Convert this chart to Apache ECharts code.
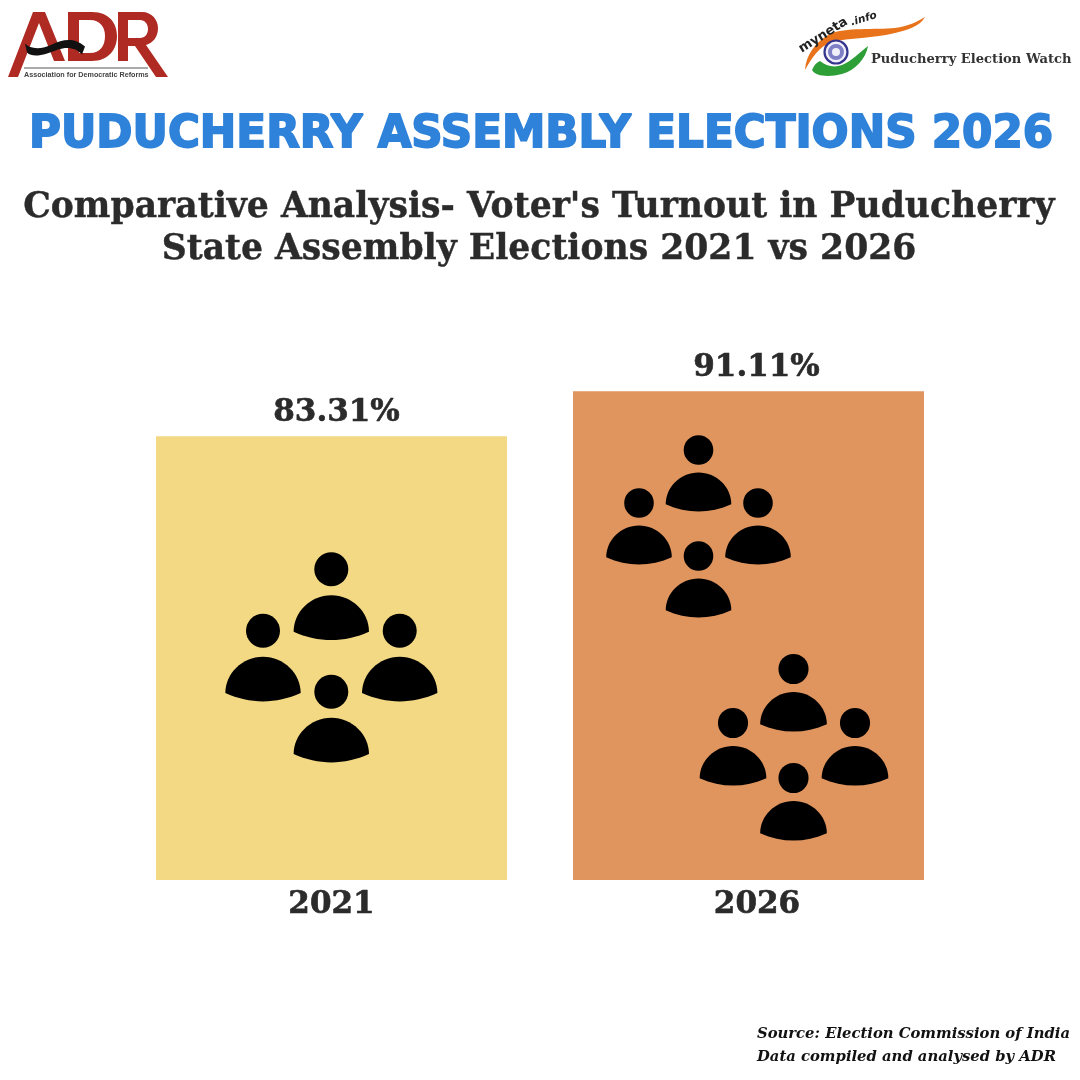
<!DOCTYPE html>
<html><head><meta charset="utf-8">
<style>html,body{margin:0;padding:0;background:#fff}#c{width:1080px;height:1080px}</style>
<script src="https://cdn.jsdelivr.net/npm/echarts@6/dist/echarts.min.js"></script>
</head><body><div id="c"></div>
<script>
const years = ['2021', '2026'];
const turnout = [83.31, 91.11];
const barColors = ['#F4D985', '#E0955E'];
const mainTitle = 'PUDUCHERRY ASSEMBLY ELECTIONS 2026';
const subTitle = "Comparative Analysis- Voter's Turnout in Puducherry\nState Assembly Elections 2021 vs 2026";
const sourceText = 'Source: Election Commission of India\nData compiled and analysed by ADR';

const SERIF2 = '"DejaVu Serif","Liberation Serif",serif';
const INK = '#2B2B2B';

function person(cx, cy, s) {
  return [
    {type:'circle', shape:{cx:cx, cy:cy, r:17*s}, style:{fill:'#000'}},
    {type:'path', shape:{pathData:'M-37.7 62.4 C-37.7 43 -21 26 0 26 C21 26 37.7 43 37.7 62.4 C13 73.5 -13 73.5 -37.7 62.4 Z',
      x:cx-37.7*s, y:cy+26*s, width:75.4*s, height:44.7*s}, style:{fill:'#000'}}
  ];
}
const people = [
  [331.3,569.3,1],[263,630.7,1],[399.7,630.7,1],[331.3,691.7,1],
  [698.5,450,0.87],[639,503,0.87],[758,503,0.87],[698.5,556,0.87],
  [793.5,669,0.885],[733,723,0.885],[855,723,0.885],[793.5,778,0.885]
];
const icons = people.flatMap(p => person(p[0],p[1],p[2]));

const adrRed = '#AE2A22';
const adrLogo = [
  {type:'path', shape:{pathData:'M33 12 L45 12 L65 61 L54 61 L39 23 L18 77 L8 77 Z', x:8,y:12,width:57,height:65}, style:{fill:adrRed}},
  {type:'path', shape:{pathData:'M68 12 L92 12 C110 12 117 24 117 36 C117 50 108 61 92 61 L68 61 Z M79 20 L79 53 L90 53 C100 53 105 46 105 36 C105 27 100 20 90 20 Z', x:68,y:12,width:49,height:49}, style:{fill:adrRed}},
  {type:'path', shape:{pathData:'M118 12 L142 12 C152 12 158 20 158 28 C158 37 153 43 146 45 L168 77 L156 77 L135 46 L128 46 L128 61 L118 61 Z M128 20 L128 38 L140 38 C145 38 148 34 148 29 C148 24 145 20 140 20 Z', x:118,y:12,width:50,height:65}, style:{fill:adrRed}},
  {type:'path', shape:{pathData:'M25 44 C30 50 42 50 52 45 C62 40 74 37 85 47 L82 55 C76 48 67 47 58 50 C46 55 33 59 27 53 Z', x:25,y:39.5,width:60,height:16.5}, style:{fill:'#111'}},
  {type:'line', shape:{x1:24,y1:68,x2:148,y2:68}, style:{stroke:'#444',lineWidth:0.9}},
  {type:'text', style:{x:24,y:75,text:'Association for Democratic Reforms',fill:'#444',font:'bold 7.2px "Liberation Sans",sans-serif',verticalAlign:'middle'}}
];
const netaLogo = [
  {type:'path', shape:{pathData:'M805 70 C806 55 815 42 830 34 C845 27 875 30 895 28 C908 26 917 22 925 17 C920 26 908 30 895 33 C875 38 848 38 832 42 C818 47 812 58 805 70 Z', x:805,y:17,width:120,height:53}, style:{fill:'#E8731A'}},
  {type:'path', shape:{pathData:'M812 70 C814 65 817 62 820 61 C826 66 834 68 842 65 C852 61 860 52 868 46 C866 58 856 70 842 74 C830 77 816 77 812 70 Z', x:812,y:46,width:56,height:30}, style:{fill:'#2E9E37'}},
  {type:'circle', shape:{cx:836,cy:52,r:11.5}, style:{fill:'#F0F0FA',stroke:'#34348F',lineWidth:2.2}},
  {type:'circle', shape:{cx:836,cy:52,r:6}, style:{fill:'#F0F0FA',stroke:'#7F7FC8',lineWidth:4}},
  {type:'text', rotation:0.56, x:800, y:50, style:{x:0,y:0,text:'myneta',fill:'#222',font:'bold 13px "DejaVu Sans",sans-serif',verticalAlign:'middle'}},
  {type:'text', rotation:0.3, x:851, y:23, style:{x:0,y:0,text:'.info',fill:'#222',font:'italic bold 10.5px "DejaVu Sans",sans-serif',verticalAlign:'middle'}},
  {type:'text', style:{x:871,y:60,text:'Puducherry Election Watch',fill:'#333',font:'bold 13.1px "DejaVu Serif",serif',verticalAlign:'middle'}}
];

const chart = echarts.init(document.getElementById('c'), null, {renderer:'canvas'});
chart.setOption({
  animation:false,
  backgroundColor:'#fff',
  title:[
    {text:mainTitle, left:536, textAlign:'center', top:109, textStyle:{color:'#2F82D9', fontFamily:'"DejaVu Sans",sans-serif', fontWeight:'bold', fontSize:43.6, textBorderColor:'#2F82D9', textBorderWidth:1.8}},
    {text:subTitle, left:534, textAlign:'center', top:182, textStyle:{color:INK, fontFamily:SERIF2, fontWeight:'bold', fontSize:34.6, lineHeight:42, textBorderColor:INK, textBorderWidth:0.4}},
    {text:sourceText, left:752, top:1018, textStyle:{color:'#111', fontFamily:SERIF2, fontStyle:'italic', fontWeight:'bold', fontSize:14.8, lineHeight:23}}
  ],
  grid:{left:123, right:123, top:340, height:540},
  xAxis:{type:'category', data:[years[0], {value:years[1], textStyle:{padding:[0,0,0,17]}}],
    axisLine:{show:false}, axisTick:{show:false},
    axisLabel:{color:INK, fontFamily:SERIF2, fontWeight:'bold', fontSize:31, margin:9, textBorderColor:INK, textBorderWidth:0.6}},
  yAxis:{type:'value', min:6.4, max:100, show:false, splitLine:{show:false}},
  series:[{type:'bar', barWidth:351,
    data:turnout.map((v,i)=>({value:v, itemStyle:{color:barColors[i]},
      label:{offset:[i===1?8:5,0]}})),
    label:{show:true, position:'top', distance:8, color:INK, fontFamily:SERIF2, fontWeight:'bold', fontSize:31, textBorderColor:INK, textBorderWidth:0.6,
      formatter:p=>p.value.toFixed(2)+'%'}},
    {type:'custom', coordinateSystem:'none', silent:true, z:5, data:[0],
      renderItem:()=>({type:'group', children:[...adrLogo, ...netaLogo, ...icons]})}
  ]
});
</script></body></html>
